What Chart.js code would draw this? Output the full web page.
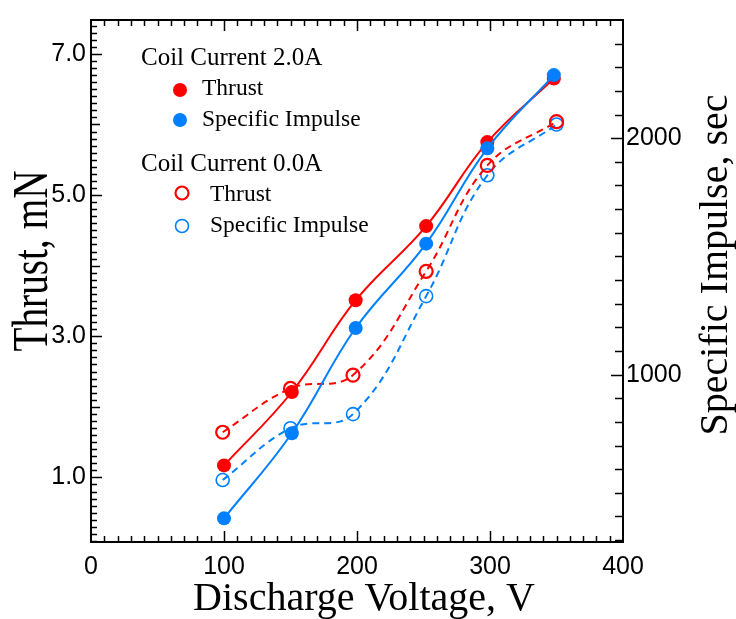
<!DOCTYPE html>
<html>
<head>
<meta charset="utf-8">
<script src="https://cdn.jsdelivr.net/npm/chart.js@4.4.1/dist/chart.umd.min.js"></script>
<style>
  html,body{margin:0;padding:0;background:#fff;}
  #wrap{width:736px;height:619px;}
</style>
</head>
<body>
<div id="wrap"><canvas id="chart" width="736" height="619"></canvas></div>
<script>
/* data */
const voltsOn   = [100, 151, 199, 252, 298, 348];   // coil current 2.0A
const thrustOn  = [1.17, 2.21, 3.51, 4.56, 5.75, 6.65];
const ispOn     = [392, 752, 1197, 1554, 1957, 2267];
const voltsOff  = [99, 150, 197, 252, 298, 350];    // coil current 0.0A
const thrustOff = [1.64, 2.26, 2.45, 3.92, 5.42, 6.04];
const ispOff    = [554, 773, 833, 1332, 1843, 2058];

const voltTicks   = [0, 100, 200, 300, 400];
const thrustTicks = [1, 3, 5, 7];
const ispTicks    = [1000, 2000];

const RED  = '#ff0000';
const BLUE = '#0080ff';
const SERIF = '"Liberation Serif", "Times New Roman", serif';
const SANS  = '"Liberation Sans", Arial, sans-serif';

function pts(xs, ys){ return xs.map((v,i)=>({x:v, y:ys[i]})); }

/* =========================
   Frame + inward ticks
========================= */
const framePlugin = {
  id:'frame',
  afterDatasetsDraw(chart){
    const {ctx, chartArea:a, scales:{x, y, y2}} = chart;
    ctx.save();
    ctx.strokeStyle = '#000';
    ctx.lineWidth = 1.5;
    ctx.beginPath();
    for(let v=10; v<400; v+=10){
      const px = Math.round(x.getPixelForValue(v)) + 0.5;
      const len = v % 100 === 0 ? 11 : 6;
      ctx.moveTo(px, a.bottom); ctx.lineTo(px, a.bottom - len);
      ctx.moveTo(px, a.top);    ctx.lineTo(px, a.top + len);
    }
    for(let i=1; i<=74; i++){
      const py = Math.round(y.getPixelForValue(i/10)) + 0.5;
      const len = (i % 20 === 10) ? 11 : (i % 10 === 0 ? 9 : 6);
      ctx.moveTo(a.left, py); ctx.lineTo(a.left + len, py);
    }
    for(let v=300; v<2500; v+=100){
      const py = Math.round(y2.getPixelForValue(v)) + 0.5;
      const len = v % 1000 === 0 ? 12 : 8;
      ctx.moveTo(a.right, py); ctx.lineTo(a.right - len, py);
    }
    ctx.stroke();
    ctx.lineWidth = 2;
    ctx.strokeRect(a.left, a.top, a.right - a.left, a.bottom - a.top);
    ctx.restore();
  }
};

/* =========================
   Legend text + axis titles
========================= */
const textPlugin = {
  id:'texts',
  afterDraw(chart){
    const ctx = chart.ctx;
    ctx.save();
    ctx.fillStyle = '#000';
    ctx.textBaseline = 'alphabetic';
    ctx.textAlign = 'left';

    ctx.font = '25px ' + SERIF;
    ctx.fillText('Coil Current 2.0A', 141, 65);
    ctx.fillText('Coil Current 0.0A', 141, 171);
    ctx.font = '23.5px ' + SERIF;
    ctx.fillText('Thrust', 202, 95);
    ctx.fillText('Specific Impulse', 202, 126);
    ctx.fillText('Thrust', 210, 201);
    ctx.fillText('Specific Impulse', 210, 232);

    // legend markers
    ctx.fillStyle = RED;
    ctx.beginPath(); ctx.arc(180, 90, 7, 0, Math.PI*2); ctx.fill();
    ctx.fillStyle = BLUE;
    ctx.beginPath(); ctx.arc(180, 120, 7, 0, Math.PI*2); ctx.fill();
    ctx.lineWidth = 2.2;
    ctx.strokeStyle = RED;
    ctx.beginPath(); ctx.arc(182, 193, 6.5, 0, Math.PI*2); ctx.stroke();
    ctx.lineWidth = 1.6;
    ctx.strokeStyle = BLUE;
    ctx.beginPath(); ctx.arc(182, 226, 6.5, 0, Math.PI*2); ctx.stroke();

    // axis titles
    ctx.fillStyle = '#000';
    ctx.textAlign = 'center';
    ctx.font = '40px ' + SERIF;
    ctx.fillText('Discharge Voltage, V', 364, 610);

    ctx.save();
    ctx.translate(47, 261);
    ctx.rotate(-Math.PI/2);
    ctx.scale(0.77, 1);
    ctx.font = '51px ' + SERIF;
    ctx.fillText('Thrust, mN', 0, 0);
    ctx.restore();

    ctx.save();
    ctx.translate(727, 265);
    ctx.rotate(-Math.PI/2);
    ctx.font = '40px ' + SERIF;
    ctx.fillText('Specific Impulse, sec', 0, 0);
    ctx.restore();

    ctx.restore();
  }
};

const tickFont = {family: SANS, size: 25};

new Chart(document.getElementById('chart'), {
  type: 'line',
  data: {
    datasets: [
      { data: pts(voltsOn, ispOn), yAxisID:'y2', borderColor:BLUE, backgroundColor:BLUE,
        borderWidth:2, pointRadius:7, pointBorderWidth:0, tension:0.4 },
      { data: pts(voltsOn, thrustOn), yAxisID:'y', borderColor:RED, backgroundColor:RED,
        borderWidth:2, pointRadius:7, pointBorderWidth:0, tension:0.4 },
      { data: pts(voltsOff, thrustOff), yAxisID:'y', borderColor:RED, backgroundColor:'rgba(0,0,0,0)',
        borderWidth:2, borderDash:[7,5], pointRadius:6.5, pointBorderWidth:2.2,
        pointBorderColor:RED, tension:0.4 },
      { data: pts(voltsOff, ispOff), yAxisID:'y2', borderColor:BLUE, backgroundColor:'rgba(0,0,0,0)',
        borderWidth:2, borderDash:[7,5], pointRadius:6.5, pointBorderWidth:1.6,
        pointBorderColor:BLUE, tension:0.4 }
    ]
  },
  options: {
    responsive:false,
    animation:false,
    devicePixelRatio:1,
    layout:{ padding:{ top:12, left:0, right:0, bottom:0 } },
    plugins:{ legend:{display:false}, tooltip:{enabled:false} },
    scales:{
      x:{
        type:'linear', position:'bottom', min:0, max:400,
        grid:{display:false, drawTicks:false}, border:{display:false},
        afterBuildTicks(s){ s.ticks = voltTicks.map(v=>({value:v})); },
        afterFit(s){ s.height = 77; },
        ticks:{ font:tickFont, color:'#000', padding:10, maxRotation:0, autoSkip:false }
      },
      y:{
        type:'linear', position:'left', min:0.085, max:7.48,
        grid:{display:false, drawTicks:false}, border:{display:false},
        afterBuildTicks(s){ s.ticks = thrustTicks.map(v=>({value:v})); },
        afterFit(s){ s.width = 91; },
        ticks:{ font:tickFont, color:'#000', padding:5, autoSkip:false,
                callback:v=>Number(v).toFixed(1) }
      },
      y2:{
        type:'linear', position:'right', min:292, max:2500,
        grid:{display:false, drawTicks:false}, border:{display:false},
        afterBuildTicks(s){ s.ticks = ispTicks.map(v=>({value:v})); },
        afterFit(s){ s.width = 113; },
        ticks:{ font:tickFont, color:'#000', padding:3, autoSkip:false,
                callback:v=>String(v) }
      }
    }
  },
  plugins:[framePlugin, textPlugin]
});
</script>
</body>
</html>
